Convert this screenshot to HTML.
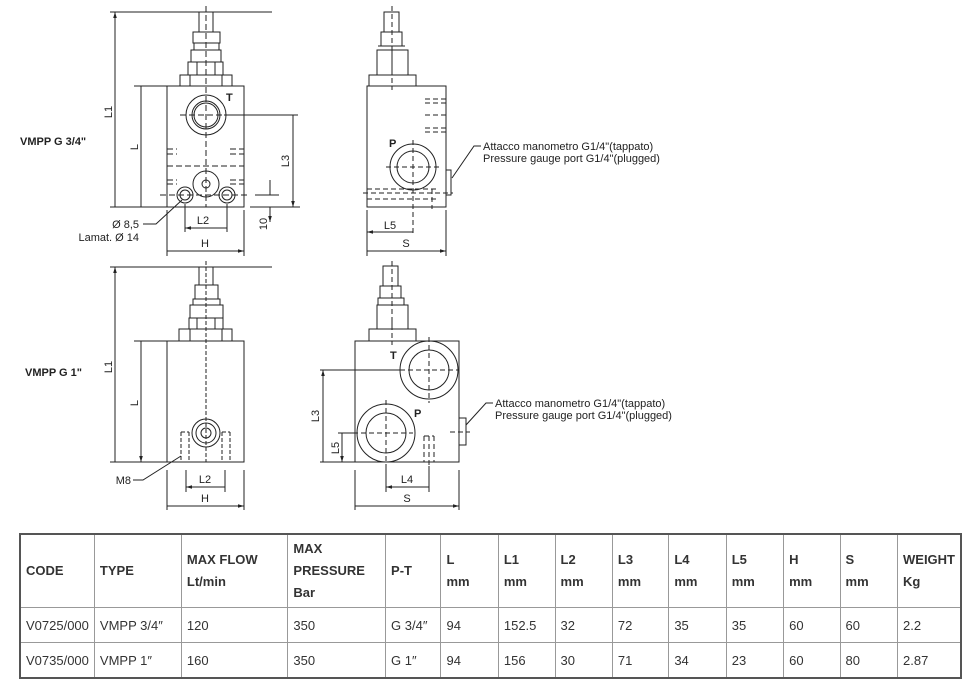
<!DOCTYPE html>
<html><head><meta charset="utf-8"><style>
body{margin:0;background:#fff;width:978px;height:683px;overflow:hidden;position:relative;font-family:"Liberation Sans",sans-serif}
svg{position:absolute;left:0;top:0}
table{position:absolute;left:19px;top:533px;width:943px;border-collapse:collapse;font-family:"Liberation Sans Narrow","Liberation Sans",sans-serif;font-size:13px;color:#333}
td{border:1px solid #999;padding:0 5px;vertical-align:middle}
tr.h td{font-weight:bold;height:72px;line-height:22px}
tr.r td{height:34px}
table{border:2px solid #555}
</style></head><body>
<svg width="978" height="533" viewBox="0 0 978 533" font-family="Liberation Sans, sans-serif" fill="none" stroke="#222" stroke-width="1">
<defs>
<marker id="a" viewBox="0 0 10 10" refX="10" refY="5" markerWidth="6" markerHeight="6" orient="auto-start-reverse"><path d="M0,2 L10,5 L0,8z" fill="#222" stroke="none"/></marker>
</defs>
<g id="valve1">
<!-- top-left view -->
<rect x="167" y="86" width="77" height="121"/>
<rect x="199" y="12" width="14" height="20"/>
<rect x="193" y="32" width="27" height="11"/>
<rect x="194" y="43" width="25" height="7"/>
<rect x="191" y="50" width="30" height="12"/>
<rect x="188" y="62" width="35" height="13"/>
<rect x="180" y="75" width="52" height="11"/>
<path d="M197 62v13M215 62v13M190 75v11M222 75v11"/>
<circle cx="206" cy="115" r="20"/><circle cx="206" cy="115" r="14"/><circle cx="206" cy="115" r="12"/>
<circle cx="206" cy="184" r="13"/><circle cx="206" cy="184" r="4"/>
<circle cx="185" cy="195" r="8"/><circle cx="185" cy="195" r="5"/>
<circle cx="227" cy="195" r="8"/><circle cx="227" cy="195" r="5"/>
<path d="M206 6V207M180 115h44M167 166h77M160 195h90M167 149h10M230 149h14M167 154h10M230 154h14M167 180h10M230 180h14M167 184h10M230 184h14" stroke-dasharray="6 3"/>
<text x="226" y="101" font-size="11" font-weight="bold" fill="#222" stroke="none">T</text>
<path d="M110 12h162M110 207h57M134 86h40M250 207h50M224 115h74M255 195h24"/>
<path d="M115 12V207M141 86V207M293 115V207" marker-start="url(#a)" marker-end="url(#a)"/>
<path d="M270 180V195M270 207V222" marker-end="url(#a)" transform=""/>
<path d="M167 210V256M244 210V256M185 204V232M227 204V232"/>
<path d="M185 228H227M167 251H244" marker-start="url(#a)" marker-end="url(#a)"/>
<text x="203" y="224" font-size="11" text-anchor="middle" fill="#222" stroke="none">L2</text>
<text x="205" y="247" font-size="11" text-anchor="middle" fill="#222" stroke="none">H</text>
<text font-size="11" fill="#222" stroke="none" transform="translate(112,112) rotate(-90)" text-anchor="middle">L1</text>
<text font-size="11" fill="#222" stroke="none" transform="translate(138,147) rotate(-90)" text-anchor="middle">L</text>
<text font-size="11" fill="#222" stroke="none" transform="translate(289,161) rotate(-90)" text-anchor="middle">L3</text>
<text font-size="11" fill="#222" stroke="none" transform="translate(267,224) rotate(-90)" text-anchor="middle">10</text>
<path d="M143 224h13L182 200"/>
<text x="139" y="228" font-size="11" text-anchor="end" fill="#222" stroke="none">Ø 8,5</text>
<text x="139" y="241" font-size="11" text-anchor="end" fill="#222" stroke="none">Lamat. Ø 14</text>
<text x="20" y="145" font-size="11" font-weight="bold" fill="#222" stroke="none">VMPP G 3/4"</text>
</g>
<g>
<!-- top-right view -->
<rect x="367" y="86" width="79" height="121"/>
<rect x="384" y="12" width="15" height="20"/>
<rect x="381" y="32" width="21" height="14"/>
<rect x="377" y="50" width="31" height="25"/>
<rect x="369" y="75" width="47" height="11"/>
<path d="M378 46h27M392 50v25"/>
<circle cx="413" cy="167" r="23"/><circle cx="413" cy="167" r="16"/>
<rect x="446" y="170" width="5" height="25"/>
<path d="M392 6V90M413 140V236M386 167h56M363 193h90M425 115h21M367 189h70M367 199h70M432 189v20M425 99h21M425 103h21M425 128h21M425 132h21" stroke-dasharray="5 3"/>
<text x="389" y="147" font-size="11" font-weight="bold" fill="#222" stroke="none">P</text>
<path d="M367 210V256M446 210V256"/>
<path d="M367 232H413M367 251H446" marker-start="url(#a)" marker-end="url(#a)"/>
<text x="390" y="229" font-size="11" text-anchor="middle" fill="#222" stroke="none">L5</text>
<text x="406" y="247" font-size="11" text-anchor="middle" fill="#222" stroke="none">S</text>
<path d="M481 146h-7L452 178"/>
<text x="483" y="150" font-size="11" fill="#222" stroke="none">Attacco manometro G1/4"(tappato)</text>
<text x="483" y="162" font-size="11" fill="#222" stroke="none">Pressure gauge port G1/4"(plugged)</text>
</g>
<g>
<!-- bottom-left -->
<rect x="167" y="341" width="77" height="121"/>
<rect x="199" y="267" width="14" height="18"/>
<rect x="195" y="285" width="23" height="14"/>
<rect x="193" y="299" width="27" height="6"/>
<rect x="190" y="305" width="33" height="13"/>
<rect x="189" y="318" width="34" height="11"/>
<rect x="179" y="329" width="53" height="12"/>
<path d="M197 318v11M215 318v11M190 329v12M222 329v12"/>
<circle cx="206" cy="433" r="14"/><circle cx="206" cy="433" r="10"/><circle cx="206" cy="433" r="5"/>
<path d="M206 261V462M181 432v30M189 432v30M222 432v30M230 432v30M181 432h8M222 432h8" stroke-dasharray="4 2"/>
<path d="M110 267h162M110 462h57M134 341h40"/>
<path d="M115 267V462M141 341V462" marker-start="url(#a)" marker-end="url(#a)"/>
<path d="M167 470V510M244 470V510M186 470V492M225 470V492"/>
<path d="M186 487H225M167 506H244" marker-start="url(#a)" marker-end="url(#a)"/>
<text x="205" y="483" font-size="11" text-anchor="middle" fill="#222" stroke="none">L2</text>
<text x="205" y="502" font-size="11" text-anchor="middle" fill="#222" stroke="none">H</text>
<text font-size="11" fill="#222" stroke="none" transform="translate(112,367) rotate(-90)" text-anchor="middle">L1</text>
<text font-size="11" fill="#222" stroke="none" transform="translate(138,403) rotate(-90)" text-anchor="middle">L</text>
<path d="M133 480h10L181 456"/>
<text x="131" y="484" font-size="11" text-anchor="end" fill="#222" stroke="none">M8</text>
<text x="25" y="376" font-size="11" font-weight="bold" fill="#222" stroke="none">VMPP G 1"</text>
</g>
<g>
<!-- bottom-right -->
<rect x="355" y="341" width="104" height="121"/>
<rect x="383" y="266" width="15" height="20"/>
<rect x="380" y="286" width="21" height="12"/>
<rect x="378" y="298" width="26" height="7"/>
<rect x="377" y="305" width="31" height="24"/>
<rect x="369" y="329" width="47" height="12"/>
<path d="M392 318v11"/>
<circle cx="429" cy="370" r="29"/><circle cx="429" cy="370" r="20"/>
<circle cx="386" cy="433" r="29"/><circle cx="386" cy="433" r="20"/>
<rect x="459" y="418" width="7" height="27"/>
<path d="M392 261V345M429 337V403M400 370h58M386 400V466M353 433h60M429 436V466M424 436v26M434 436v26M424 436h10M450 432h20" stroke-dasharray="5 3"/>
<text x="390" y="359" font-size="11" font-weight="bold" fill="#222" stroke="none">T</text>
<text x="414" y="417" font-size="11" font-weight="bold" fill="#222" stroke="none">P</text>
<path d="M320 370h80M338 433h18M320 462h35"/>
<path d="M323 370V462M342 433V462" marker-start="url(#a)" marker-end="url(#a)"/>
<text font-size="11" fill="#222" stroke="none" transform="translate(319,416) rotate(-90)" text-anchor="middle">L3</text>
<text font-size="11" fill="#222" stroke="none" transform="translate(339,448) rotate(-90)" text-anchor="middle">L5</text>
<path d="M355 470V510M459 470V510M386 466V492M429 466V492"/>
<path d="M386 487H429M355 506H459" marker-start="url(#a)" marker-end="url(#a)"/>
<text x="407" y="483" font-size="11" text-anchor="middle" fill="#222" stroke="none">L4</text>
<text x="407" y="502" font-size="11" text-anchor="middle" fill="#222" stroke="none">S</text>
<path d="M493 403h-7L466 425"/>
<text x="495" y="407" font-size="11" fill="#222" stroke="none">Attacco manometro G1/4"(tappato)</text>
<text x="495" y="419" font-size="11" fill="#222" stroke="none">Pressure gauge port G1/4"(plugged)</text>
</g>
</svg>
<table>
<colgroup><col style="width:73px"><col style="width:88px"><col style="width:108px"><col style="width:98px"><col style="width:56px"><col style="width:58px"><col style="width:57px"><col style="width:58px"><col style="width:57px"><col style="width:58px"><col style="width:58px"><col style="width:57px"><col style="width:58px"><col></colgroup>
<tr class="h"><td>CODE</td><td>TYPE</td><td>MAX FLOW<br>Lt/min</td><td>MAX<br>PRESSURE<br>Bar</td><td>P-T</td><td>L<br>mm</td><td>L1<br>mm</td><td>L2<br>mm</td><td>L3<br>mm</td><td>L4<br>mm</td><td>L5<br>mm</td><td>H<br>mm</td><td>S<br>mm</td><td>WEIGHT<br>Kg</td></tr>
<tr class="r"><td>V0725/000</td><td>VMPP 3/4″</td><td>120</td><td>350</td><td>G 3/4″</td><td>94</td><td>152.5</td><td>32</td><td>72</td><td>35</td><td>35</td><td>60</td><td>60</td><td>2.2</td></tr>
<tr class="r"><td>V0735/000</td><td>VMPP 1″</td><td>160</td><td>350</td><td>G 1″</td><td>94</td><td>156</td><td>30</td><td>71</td><td>34</td><td>23</td><td>60</td><td>80</td><td>2.87</td></tr>
</table>
</body></html>
